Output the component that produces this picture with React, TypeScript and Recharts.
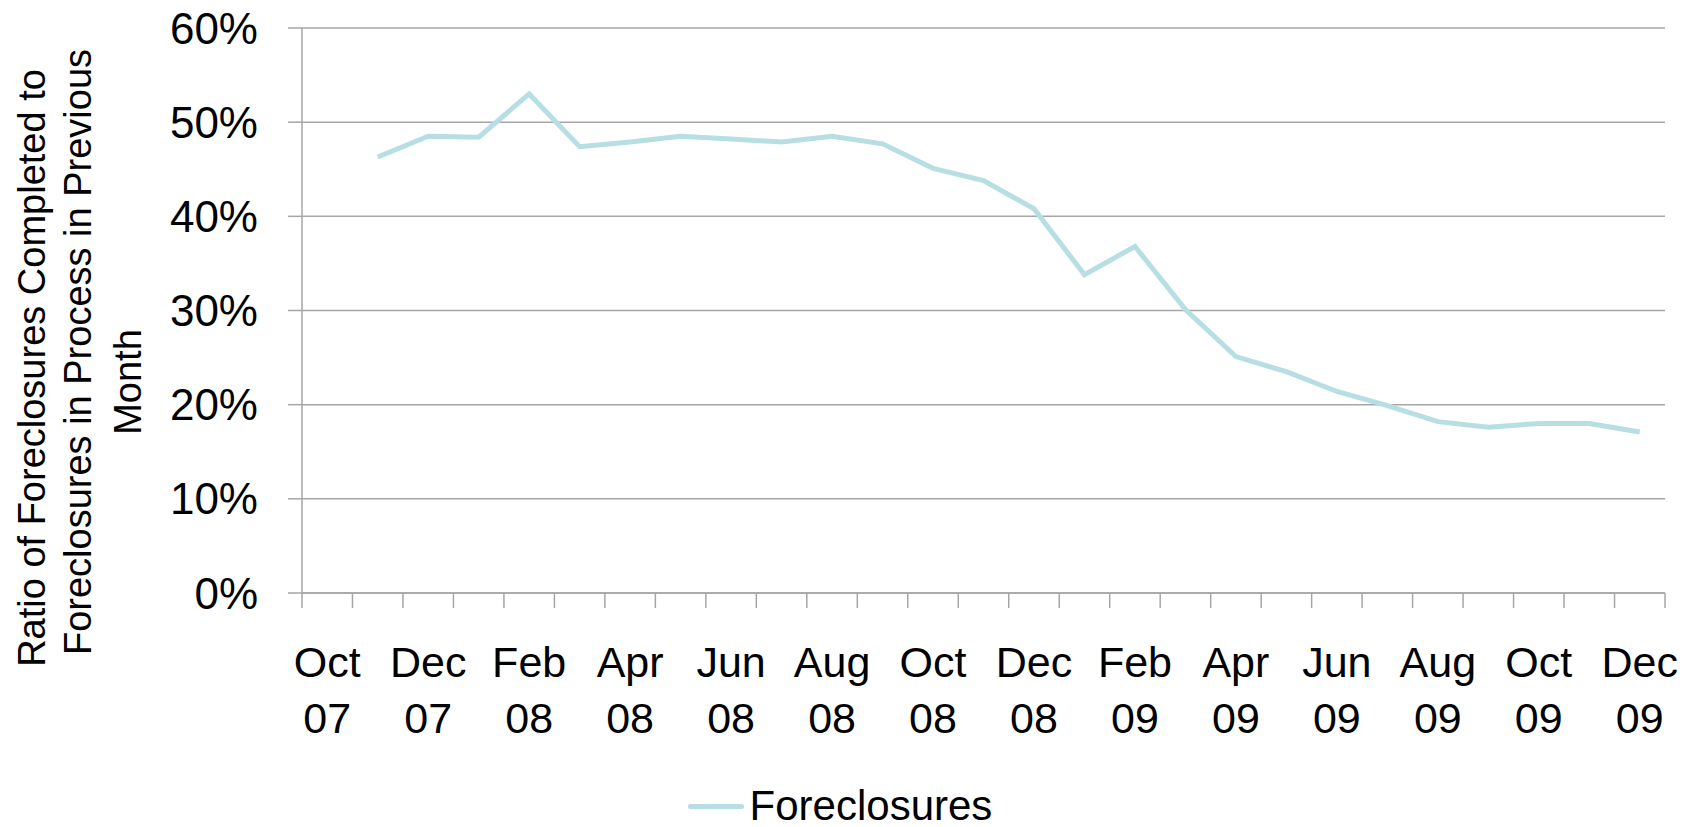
import { LineChart, Line, XAxis, YAxis, CartesianGrid, Legend } from "recharts";

const MONTHS = [
  "Oct 07", "Nov 07", "Dec 07", "Jan 08", "Feb 08", "Mar 08", "Apr 08", "May 08", "Jun 08",
  "Jul 08", "Aug 08", "Sep 08", "Oct 08", "Nov 08", "Dec 08", "Jan 09", "Feb 09", "Mar 09",
  "Apr 09", "May 09", "Jun 09", "Jul 09", "Aug 09", "Sep 09", "Oct 09", "Nov 09", "Dec 09",
];

// percent; Oct 07 has no value
const FORECLOSURES: (number | null)[] = [
  null, 46.3, 48.5, 48.4, 53.0, 47.4, 47.9, 48.5, 48.2, 47.9, 48.5, 47.7, 45.1, 43.8,
  40.8, 33.8, 36.8, 30.1, 25.1, 23.5, 21.4, 19.9, 18.2, 17.6, 18.0, 18.0, 17.1,
];

const Y_TICKS = [0, 10, 20, 30, 40, 50, 60];
const Y_TITLE = ["Ratio of Foreclosures Completed to", "Foreclosures in Process in Previous", "Month"];

const W = 1694;
const H = 827;
const LEFT = 302;
const RIGHT = 29;
const FONT = "'Liberation Sans', Arial, sans-serif";
const GRID = "#A6A6A6";
const LINE = "#B7DEE2";

const data = MONTHS.map((m, i) => ({ x: i + 0.5, month: m, value: FORECLOSURES[i] }));
const xTicks = Array.from({ length: MONTHS.length + 1 }, (_, i) => i);
const half = (W - LEFT - RIGHT) / MONTHS.length / 2;

function MonthTick(props: any) {
  const { x, y, payload } = props;
  const i = payload.value;
  if (i % 2 !== 0 || i >= MONTHS.length) return null;
  const [mon, yr] = MONTHS[i].split(" ");
  return (
    <text x={x + half} y={y} textAnchor="middle" fontFamily={FONT} fontSize={43} fill="#000">
      <tspan x={x + half} dy={69}>{mon}</tspan>
      <tspan x={x + half} dy={56}>{yr}</tspan>
    </text>
  );
}

function YTitle() {
  const pos = [
    { x: 32, y: 368 },
    { x: 78, y: 352 },
    { x: 128, y: 382 },
  ];
  return (
    <g>
      {Y_TITLE.map((t, i) => (
        <text
          key={i}
          x={pos[i].x}
          y={pos[i].y}
          transform={`rotate(-90 ${pos[i].x} ${pos[i].y})`}
          textAnchor="middle"
          dominantBaseline="central"
          fontFamily={FONT}
          fontSize={38}
          fill="#000"
        >
          {t}
        </text>
      ))}
    </g>
  );
}

function LegendBox() {
  return (
    <div style={{ display: "flex", alignItems: "center", justifyContent: "center", height: 36, lineHeight: "36px", fontFamily: FONT, fontSize: 42, paddingRight: 14 }}>
      <div style={{ width: 56, height: 5, background: LINE, borderRadius: 3, marginRight: 6 }} />
      <span>Foreclosures</span>
    </div>
  );
}

export default function App() {
  return (
    <div style={{ position: "absolute", left: 0, top: 0, width: W, height: H, background: "#fff" }}>
      <LineChart width={W} height={H} data={data} margin={{ top: 28, right: RIGHT, left: 0, bottom: 48 }}>
        <CartesianGrid vertical={false} stroke={GRID} strokeWidth={1.5} />
        <XAxis
          dataKey="x"
          type="number"
          domain={[0, MONTHS.length]}
          ticks={xTicks}
          interval={0}
          height={150}
          tickSize={15}
          tickMargin={0}
          axisLine={{ stroke: GRID, strokeWidth: 1.5 }}
          tickLine={{ stroke: GRID, strokeWidth: 1.5 }}
          tick={<MonthTick />}
        />
        <YAxis
          type="number"
          domain={[0, 60]}
          ticks={Y_TICKS}
          width={LEFT}
          tickSize={14}
          tickMargin={30}
          tickFormatter={(v: number) => `${v}%`}
          axisLine={{ stroke: GRID, strokeWidth: 1.5 }}
          tickLine={{ stroke: GRID, strokeWidth: 1.5 }}
          tick={{ fontFamily: FONT, fontSize: 44, fill: "#000" }}
          label={{ content: () => <YTitle /> }}
        />
        <Legend verticalAlign="bottom" height={36} content={() => <LegendBox />} wrapperStyle={{ top: 788, left: 0, width: W }} />
        <Line
          type="linear"
          dataKey="value"
          name="Foreclosures"
          stroke={LINE}
          strokeWidth={5}
          dot={false}
          activeDot={false}
          isAnimationActive={false}
        />
      </LineChart>
    </div>
  );
}
